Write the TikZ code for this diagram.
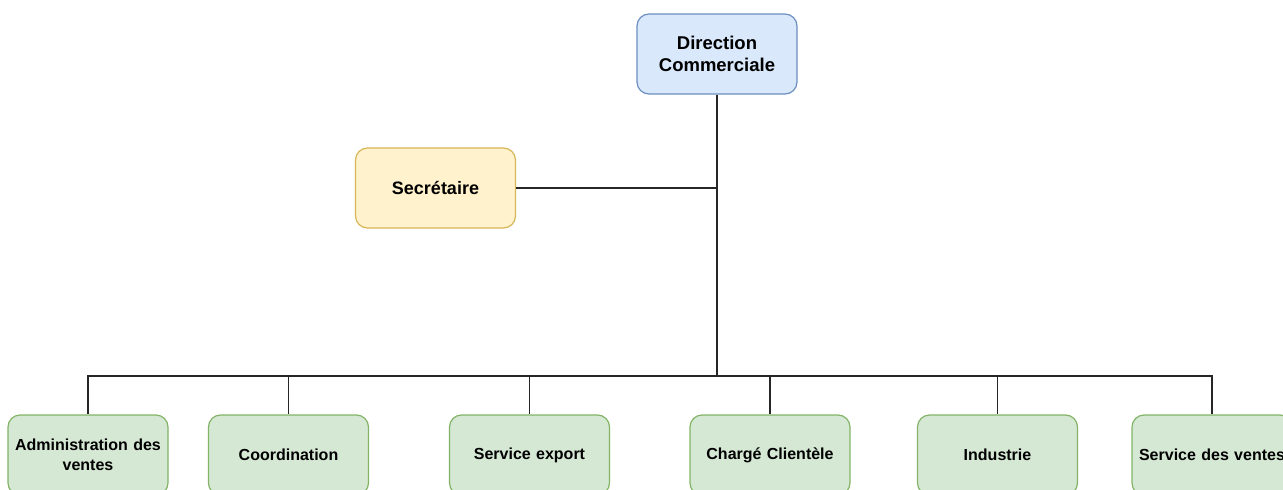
\documentclass[tikz,border=0pt]{standalone}
\usepackage{fontspec}
\setmainfont{Liberation Sans}
\definecolor{blueFill}{HTML}{DAE8FC}
\definecolor{blueLine}{HTML}{6C8EBF}
\definecolor{yellowFill}{HTML}{FFF2CC}
\definecolor{yellowLine}{HTML}{D6B656}
\definecolor{greenFill}{HTML}{D5E8D4}
\definecolor{greenLine}{HTML}{82B366}
\definecolor{edgeGray}{HTML}{262626}
\begin{document}
\begin{tikzpicture}[x=1pt,y=-1pt,
  unit/.style={rounded corners=12pt, minimum width=160pt, minimum height=80pt,
    line width=1.2pt, align=center, inner sep=2pt, text=black},
  head/.style={unit, fill=blueFill, draw=blueLine,
    font=\fontsize{18.5}{22}\selectfont\bfseries},
  aide/.style={unit, fill=yellowFill, draw=yellowLine,
    font=\fontsize{18}{22}\selectfont\bfseries},
  dept/.style={unit, fill=greenFill, draw=greenLine, text width=154pt,
    font=\fontsize{16}{20}\selectfont\bfseries},
  link/.style={draw=edgeGray, line width=1.3pt}]
\useasboundingbox (0,0) rectangle (1283,490);
\clip (0,0) rectangle (1283,490);

% management
\node[head] (dc) at (717,54) {Direction\\Commerciale};
\node[aide] (sec) at (435.5,188) {Secrétaire};

% departments
\node[dept] (adv) at (88,455)    {Administration des\\ventes};
\node[dept] (coo) at (288.5,455) {Coordination};
\node[dept] (exp) at (529.5,455) {Service export};
\node[dept] (cha) at (770,455)   {Chargé Clientèle};
\node[dept] (ind) at (997.5,455) {Industrie};
\node[dept] (sdv) at (1212,455)  {Service des ventes};

% connectors
\coordinate (bus) at (717,376);
\draw[link] (dc.south) |- (sec.east);
\draw[link] (dc.south) -- (bus);
\foreach \n in {adv,coo,exp,cha,ind,sdv}
  \draw[link] (bus) -| (\n.north);
\end{tikzpicture}
\end{document}
